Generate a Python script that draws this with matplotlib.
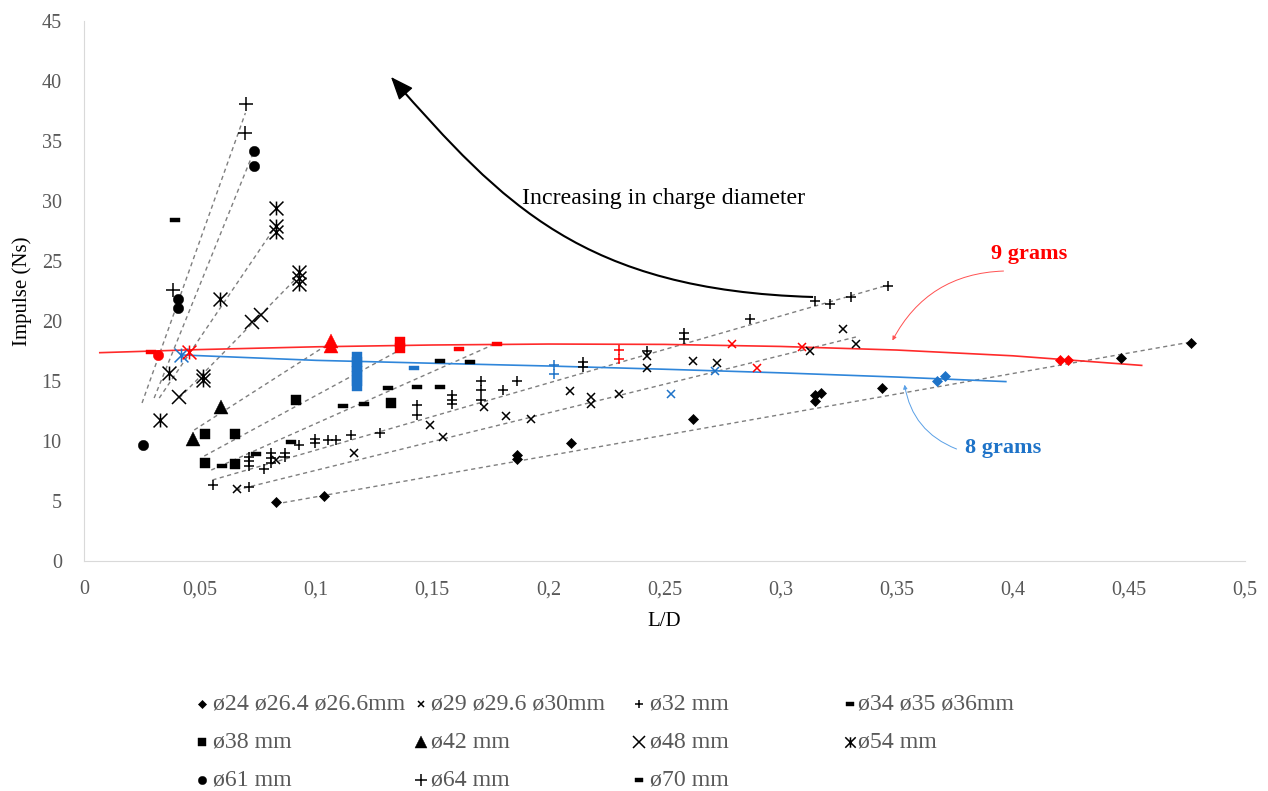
import numpy as np
import matplotlib.pyplot as plt
from matplotlib.path import Path
from matplotlib.patches import FancyArrowPatch, PathPatch

plt.rcParams['font.family'] = ['Liberation Serif', 'DejaVu Serif']

# ---- data (L/D, impulse Ns, colour: k=other, b=8 g, r=9 g)
d24_x = [0.0825, 0.1032, 0.1864, 0.1864, 0.2097, 0.2623, 0.3149, 0.3149, 0.3174, 0.3437,
         0.3674, 0.3706, 0.4203, 0.4236, 0.4466, 0.4767]
d24_y = [4.9, 5.4, 8.8, 8.5, 9.8, 11.8, 13.8, 13.3, 14.0, 14.45, 15.0, 15.45, 16.75, 16.75, 16.95, 18.2]
d24_c = list("kkkkkkkkkkbbrrkk")

d29_x = [0.0658, 0.0827, 0.1163, 0.1492, 0.1544, 0.1724, 0.1818, 0.1924, 0.2091, 0.2185, 0.2185,
         0.2302, 0.2425, 0.2425, 0.2526, 0.2623, 0.2717, 0.2727, 0.2792, 0.2897, 0.3094, 0.3126,
         0.3267, 0.3325]
d29_y = [6.0, 8.4, 9.0, 11.3, 10.3, 12.8, 12.1, 11.8, 14.2, 13.7, 13.1, 13.9, 17.1, 16.05, 13.9,
         16.7, 15.8, 16.5, 18.05, 16.1, 17.85, 17.5, 19.3, 18.1]
d29_c = list("kkkkkkkkkkkkkkbkbkrrrkkk")

d32_x = [0.0554, 0.0710, 0.0710, 0.0710, 0.0710, 0.0774, 0.0806, 0.0806, 0.0806, 0.0864, 0.0864,
         0.0928, 0.0993, 0.0993, 0.1050, 0.1087, 0.1148, 0.1274, 0.1432, 0.1432, 0.1586, 0.1586,
         0.1586, 0.1710, 0.1710, 0.1710, 0.1803, 0.1866, 0.2022, 0.2022, 0.2148, 0.2148, 0.2302,
         0.2302, 0.2425, 0.2583, 0.2583, 0.2867, 0.3150, 0.3212, 0.3305, 0.3461]
d32_y = [6.3, 6.2, 8.7, 8.3, 7.9, 7.7, 9.0, 8.6, 8.2, 9.0, 8.7, 9.7, 10.2, 9.8, 10.1, 10.1, 10.5,
         10.7, 13.0, 12.2, 13.8, 13.4, 13.1, 15.0, 14.25, 13.4, 14.25, 15.0, 16.3, 15.6, 16.6, 16.2,
         17.6, 16.8, 17.5, 19.0, 18.5, 20.2, 21.7, 21.4, 22.0, 22.9]
d32_c = list("k" * 28 + "bbkkrr" + "k" * 8)

d34_x = [0.0594, 0.0741, 0.0892, 0.1115, 0.1206, 0.1310, 0.1435, 0.1533, 0.1533, 0.1662, 0.1422,
         0.1617, 0.1777]
d34_y = [7.9, 8.9, 9.95, 12.9, 13.05, 14.45, 14.5, 14.5, 16.7, 16.6, 16.05, 17.67, 18.1]
d34_c = list("kkkkkkkkkkbrr")

d38_x = [0.0523, 0.0652, 0.0914, 0.0523, 0.0652, 0.1324, 0.1177, 0.1177, 0.1177, 0.1177, 0.1177,
         0.1177, 0.1177, 0.1360, 0.1360]
d38_y = [10.6, 10.6, 13.4, 8.2, 8.05, 13.2, 14.6, 15.0, 15.4, 15.8, 16.2, 16.6, 17.0, 17.75, 18.25]
d38_c = list("kkkkkkbbbbbbbrr")

d42_x = [0.0468, 0.0590, 0.1065, 0.1065]
d42_y = [10.2, 12.8, 17.9, 18.3]
d42_c = list("kkrr")

d48_x = [0.0410, 0.0724, 0.0763]
d48_y = [13.7, 19.9, 20.5]
d48_c = list("kkk")

d54_x = [0.0327, 0.0364, 0.0514, 0.0514, 0.0586, 0.0827, 0.0827, 0.0827, 0.0928, 0.0928, 0.0928,
         0.0417, 0.0453]
d54_y = [11.75, 15.7, 15.4, 15.1, 21.8, 29.4, 27.9, 27.4, 24.1, 23.6, 23.1, 17.2, 17.4]
d54_c = list("kkkkkkkkkkkbr")

d61_x = [0.0255, 0.0403, 0.0403, 0.0730, 0.0730, 0.0320]
d61_y = [9.7, 21.8, 21.1, 34.2, 32.9, 17.2]
d61_c = list("kkkkkr")

d64_x = [0.0384, 0.0694, 0.0698]
d64_y = [22.6, 35.7, 38.1]
d64_c = list("kkk")

d70_x = [0.0390, 0.0290]
d70_y = [28.4, 17.4]
d70_c = list("kr")

# linear trend lines per diameter (start / end)
trend_x0 = [0.0250, 0.0302, 0.0324, 0.0410, 0.0475, 0.0518, 0.0548, 0.0553, 0.0656, 0.0825]
trend_y0 = [13.17, 13.58, 13.58, 13.58, 10.92, 8.75, 7.58, 6.75, 5.92, 4.75]
trend_x1 = [0.0695, 0.0725, 0.0829, 0.0928, 0.1066, 0.1360, 0.1779, 0.3463, 0.3325, 0.4767]
trend_y1 = [37.33, 33.83, 28.0, 23.83, 18.25, 17.58, 18.17, 23.0, 18.67, 18.25]

# mass trend curves
g9_x = [0.0068, 0.05, 0.10, 0.15, 0.20, 0.25, 0.30, 0.35, 0.40, 0.4555]
g9_y = [17.36, 17.62, 17.85, 18.0, 18.08, 18.05, 17.88, 17.58, 17.1, 16.3]
g8_x = [0.042, 0.10, 0.15, 0.20, 0.25, 0.30, 0.35, 0.397]
g8_y = [17.17, 16.72, 16.48, 16.25, 15.98, 15.68, 15.33, 14.95]

labels = ["ø24 ø26.4 ø26.6mm", "ø29 ø29.6 ø30mm", "ø32 mm", "ø34 ø35 ø36mm",
          "ø38 mm", "ø42 mm", "ø48 mm", "ø54 mm", "ø61 mm", "ø64 mm", "ø70 mm"]

# ---- marker styles
dash = Path([(-1, -0.42), (1, -0.42), (1, 0.42), (-1, 0.42), (-1, -0.42)],
            [Path.MOVETO, Path.LINETO, Path.LINETO, Path.LINETO, Path.CLOSEPOLY])
zhe = Path([(-1, -1), (1, 1), (-1, 1), (1, -1), (0, -1), (0, 1)],
           [Path.MOVETO, Path.LINETO, Path.MOVETO, Path.LINETO, Path.MOVETO, Path.LINETO])

styles = [
    dict(marker='D', ms=5, mew=0.5),
    dict(marker='x', ms=5.5, mew=1.1),
    dict(marker='+', ms=6.5, mew=1.1),
    dict(marker=dash, ms=7.5, mew=0.3),
    dict(marker='s', ms=7, mew=0.3),
    dict(marker='^', ms=10, mew=0.3),
    dict(marker='x', ms=10, mew=1.1),
    dict(marker=zhe, ms=10, mew=1.1),
    dict(marker='o', ms=7.5, mew=0.3),
    dict(marker='+', ms=10, mew=1.1),
    dict(marker=dash, ms=7.5, mew=0.3),
]
series = [(d24_x, d24_y, d24_c), (d29_x, d29_y, d29_c), (d32_x, d32_y, d32_c),
          (d34_x, d34_y, d34_c), (d38_x, d38_y, d38_c), (d42_x, d42_y, d42_c),
          (d48_x, d48_y, d48_c), (d54_x, d54_y, d54_c), (d61_x, d61_y, d61_c),
          (d64_x, d64_y, d64_c), (d70_x, d70_y, d70_c)]
cmap = {'k': 'black', 'b': '#1E73C8', 'r': '#FF0000'}

fig = plt.figure(figsize=(12.68, 7.91), dpi=100)
ax = fig.add_axes([84 / 1268, 1 - 561 / 791, (1245 - 84) / 1268, 540 / 791])

for x0, y0, x1, y1 in zip(trend_x0, trend_y0, trend_x1, trend_y1):
    ax.plot([x0, x1], [y0, y1], color='#7F7F7F', lw=1.0, ls=(0, (3, 2.5)), zorder=1)

ax.plot(g9_x, g9_y, color='#FF2A2A', lw=1.2, zorder=2)
ax.plot(g8_x, g8_y, color='#2F86DA', lw=1.2, zorder=2)

for (xs, ys, cs), st in zip(series, styles):
    xs, ys, cs = np.array(xs), np.array(ys), np.array(cs)
    for key, col in cmap.items():
        m = cs == key
        if m.any():
            ax.plot(xs[m], ys[m], ls='none', color=col, mec=col, mfc=col, zorder=3, **st)

ax.set_xlim(0, 0.5)
ax.set_ylim(0, 45)
ax.set_xticks(np.arange(0, 0.51, 0.05))
ax.set_xticklabels(["0", "0,05", "0,1", "0,15", "0,2", "0,25", "0,3", "0,35", "0,4", "0,45", "0,5"])
ax.set_yticks(range(0, 46, 5))
ax.tick_params(length=0, labelsize=14.5, labelcolor='#595959')
ax.tick_params(axis='y', pad=16)
ax.tick_params(axis='x', pad=14)
for s in ['top', 'right']:
    ax.spines[s].set_visible(False)
for s in ['left', 'bottom']:
    ax.spines[s].set_color('#D9D9D9')
ax.set_xlabel("L/D", fontsize=15, labelpad=9)
ax.set_ylabel("Impulse (Ns)", fontsize=15, labelpad=7)

# annotations: curved arrow, body as a bezier and a separate head
arc = Path([(0.3140, 22.0), (0.2149, 22.575), (0.1805, 29.71), (0.1330, 40.15)],
           [Path.MOVETO, Path.CURVE4, Path.CURVE4, Path.CURVE4])
ax.add_patch(PathPatch(arc, fill=False, lw=1.5, ec='black', zorder=4))
ax.add_patch(FancyArrowPatch((0.13618, 39.46), (0.13222, 40.33),
                             arrowstyle='-|>,head_length=0.8,head_width=0.32',
                             mutation_scale=18, lw=1.0, color='black', shrinkA=0, shrinkB=0,
                             zorder=4))
ax.text(0.1886, 30.17, "Increasing in charge diameter", fontsize=17.2, ha='left', va='center')

ax.text(0.3905, 25.6, "9 grams", fontsize=16, fontweight='bold', color='#FF0000', va='center')
ax.add_patch(FancyArrowPatch((0.3972, 24.17), (0.3476, 18.17), connectionstyle='arc3,rad=0.3',
                             arrowstyle='-|>', mutation_scale=6, lw=0.7, color='#FF5050', zorder=4))
ax.text(0.3795, 9.4, "8 grams", fontsize=16, fontweight='bold', color='#1E73C8', va='center')
ax.add_patch(FancyArrowPatch((0.3769, 9.25), (0.3532, 14.92), connectionstyle='arc3,rad=-0.3',
                             arrowstyle='-|>', mutation_scale=6, lw=0.7, color='#5AA0E6', zorder=4))

# legend laid out like the original (row-major, fixed columns)
lg = fig.add_axes([0, 0, 1, 1])
lg.set_xlim(0, 1268)
lg.set_ylim(791, 0)
lg.axis('off')
col_mx = [202, 421, 639, 850]
col_tx = [213, 431, 650, 858]
row_y = [704, 742, 780]
leg_scale = [0.8, 0.8, 0.8, 0.85, 0.85, 0.8, 0.8, 0.75, 0.8, 0.85, 0.85]
for i, (lab, st) in enumerate(zip(labels, styles)):
    r, c = divmod(i, 4)
    s2 = dict(st)
    s2['ms'] = st['ms'] * leg_scale[i]
    lg.plot([col_mx[c]], [row_y[r]], ls='none', color='black', **s2)
    lg.text(col_tx[c], row_y[r], lab, fontsize=17.2, color='#595959', va='center', ha='left')

fig.savefig("out.png", dpi=100)
